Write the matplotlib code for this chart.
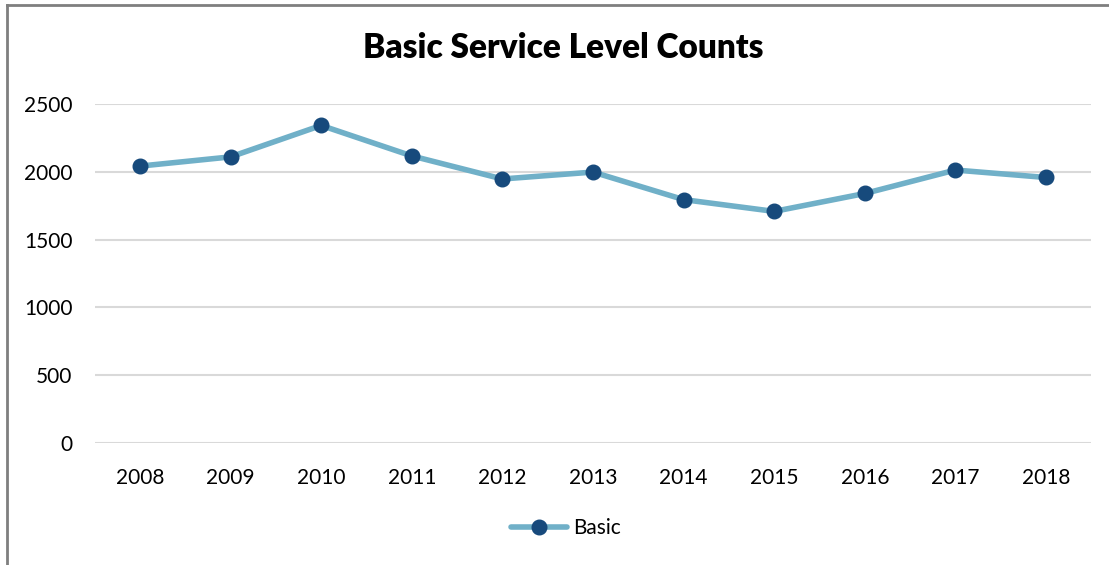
import matplotlib
matplotlib.use("Agg")
import matplotlib.pyplot as plt
from matplotlib.lines import Line2D

years = ["2008", "2009", "2010", "2011", "2012", "2013", "2014", "2015", "2016", "2017", "2018"]
basic = [2042, 2110, 2342, 2117, 1947, 1998, 1795, 1708, 1840, 2013, 1958]
yticks = [0, 500, 1000, 1500, 2000, 2500]

plt.rcParams['font.family'] = ['Lato', 'DejaVu Sans']

fig = plt.figure(figsize=(11.09, 5.65), dpi=100)
# plot area in pixel terms: x 94.7-1091.3, y 104-443
ax = fig.add_axes([94.7 / 1109, 1 - 443 / 565, (1091.3 - 94.7) / 1109, (443 - 104) / 565])

x = list(range(len(years)))
ax.plot(x, basic, color="#70b0c8", linewidth=4, solid_capstyle="round", zorder=3)
ax.plot(x, basic, linestyle="none", marker="o", markersize=10.5,
        color="#174a7c", zorder=4)

ax.set_xlim(-0.5, len(years) - 0.5)
ax.set_ylim(0, 2500)
ax.set_yticks(yticks)
ax.set_yticklabels([str(v) for v in yticks], fontsize=15)
ax.set_xticks(x)
ax.set_xticklabels(years, fontsize=15)
ax.tick_params(length=0, pad=16, axis="y")
ax.tick_params(length=0, pad=18, axis="x")
ax.grid(axis="y", color="#d9d9d9", linewidth=1.5)
ax.set_axisbelow(True)
for s in ax.spines.values():
    s.set_visible(False)
ax.patch.set_alpha(0)

fig.text(563 / 1109, 1 - 48 / 565, "Basic Service Level Counts", ha="center", va="center",
         fontsize=24, fontweight="heavy")

handle = Line2D([], [], color="#70b0c8", linewidth=4, marker="o", markersize=10.5,
                markerfacecolor="#174a7c", markeredgecolor="#174a7c", solid_capstyle="round")
fig.legend([handle], ["Basic"], loc="center", bbox_to_anchor=(566 / 1109, 1 - 528 / 565),
           frameon=False, fontsize=15, handlelength=2.65, handletextpad=0.3)

# outer frame: only top and left edges are visible
fig.add_artist(Line2D([7 / 1109, 1.0], [1 - 5 / 565, 1 - 5 / 565], color="#7f7f7f", linewidth=2,
                      transform=fig.transFigure))
fig.add_artist(Line2D([7 / 1109, 7 / 1109], [0, 1 - 5 / 565], color="#7f7f7f", linewidth=2,
                      transform=fig.transFigure))

fig.savefig("out.png", dpi=100)
